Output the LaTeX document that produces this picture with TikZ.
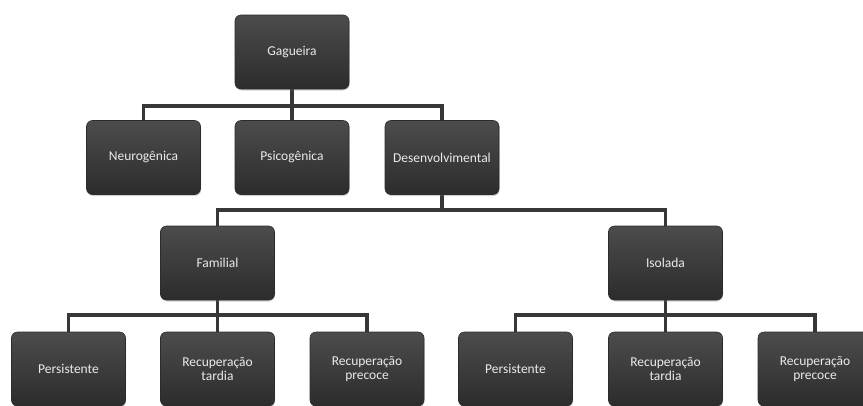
\documentclass[tikz,border=0pt]{standalone}
\usepackage{fontspec}
\setmainfont{Carlito}
\usetikzlibrary{shadows,backgrounds}
\definecolor{boxtop}{RGB}{76,76,76}
\definecolor{boxbot}{RGB}{44,44,44}
\definecolor{linecol}{RGB}{55,55,55}
\definecolor{txtcol}{RGB}{235,235,235}
\tikzset{
  box/.style={rectangle, rounded corners=6pt, minimum width=114pt, minimum height=74pt,
    inner sep=0pt, top color=boxtop, bottom color=boxbot, draw=boxbot, line width=0.6pt,
    drop shadow={shadow xshift=0.6pt, shadow yshift=-1.5pt, opacity=0.35},
    text=txtcol, align=center, font=\fontsize{13.5}{14.5}\selectfont},
  conn/.style={draw=linecol, line width=3.4pt}
}
\begin{document}
\begin{tikzpicture}[x=1pt,y=1pt]
\useasboundingbox (0,0) rectangle (863,-405);
\clip (0,0) rectangle (863,-405);
% level 0
\node[box] (gag) at (292,-52) {Gagueira};
% level 1
\node[box] (neuro) at (143.5,-157.5) {Neurogênica};
\node[box] (psico) at (292,-157.5) {Psicogênica};
\node[box] (desen) at (442,-157.5) {Desenvolvimental};
% level 2
\node[box] (fam) at (217.5,-263) {Familial};
\node[box] (iso) at (665.5,-263) {Isolada};
% level 3
\node[box] (p1) at (68.5,-369) {Persistente};
\node[box] (t1) at (217.5,-369) {Recuperação\\tardia};
\node[box] (c1) at (367,-369) {Recuperação\\precoce};
\node[box] (p2) at (515.5,-369) {Persistente};
\node[box] (t2) at (665.5,-369) {Recuperação\\tardia};
\node[box] (c2) at (815,-369) {Recuperação\\precoce};
\coordinate (b1) at (0,-106);
\coordinate (b2) at (0,-210);
\coordinate (b3) at (0,-315);
\begin{scope}[on background layer]
  \draw[conn] (gag.south) -- (psico.north);
  \draw[conn] (neuro.north) -- (neuro.north|-b1) -- (desen.north|-b1) -- (desen.north);
  \draw[conn] (desen.south) -- (desen.south|-b2);
  \draw[conn] (fam.north) -- (fam.north|-b2) -- (iso.north|-b2) -- (iso.north);
  \draw[conn] (fam.south) -- (t1.north);
  \draw[conn] (p1.north) -- (p1.north|-b3) -- (c1.north|-b3) -- (c1.north);
  \draw[conn] (iso.south) -- (t2.north);
  \draw[conn] (p2.north) -- (p2.north|-b3) -- (c2.north|-b3) -- (c2.north);
\end{scope}
\end{tikzpicture}
\end{document}
